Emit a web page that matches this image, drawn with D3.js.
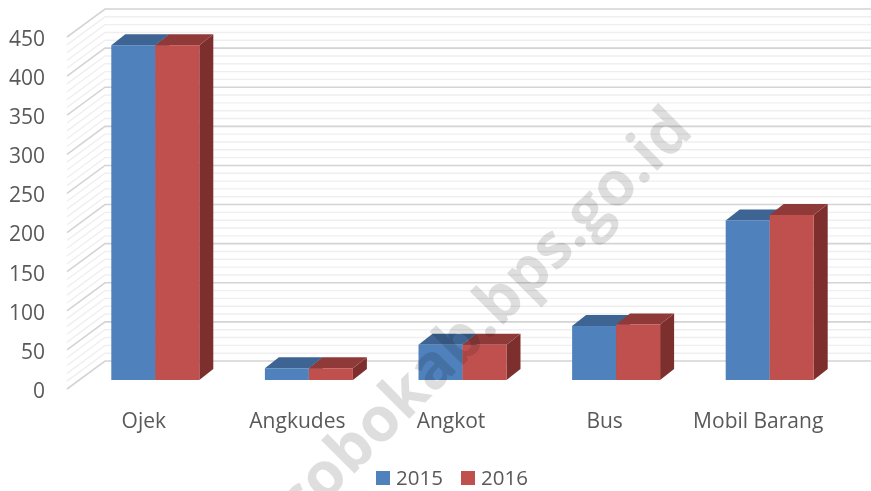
<!DOCTYPE html>
<html><head><meta charset="utf-8">
<script src="https://cdn.jsdelivr.net/npm/d3@7/dist/d3.min.js"></script>
<style>html,body{margin:0;padding:0;background:#fff;overflow:hidden}
svg{display:block;filter:blur(.7px)}
text{font-family:"Open Sans",sans-serif;fill:#595959}</style></head><body>
<script>
const categories=["Ojek","Angkudes","Angkot","Bus","Mobil Barang"];
const series2015=[428,15,45,69,204];
const series2016=[428,15,45,71,211];
const yTicks=[0,50,100,150,200,250,300,350,400,450];
const minorTicks=d3.range(0,451,10);
const seriesNames=["2015","2016"];
const W=871,H=491;
const depth={x:38,y:-28}, barDepth={x:14,y:-11}, barOff=-9;
const y=d3.scaleLinear().domain([0,450]).range([389,37]);
const x=d3.scaleBand().domain(categories).range([78.5,846.5]);
const xLabels=d3.scaleBand().domain(categories).range([67,835]);
const barW=44;
const svg=d3.select("body").append("svg").attr("width",W).attr("height",H);
const grid=svg.append("g").attr("fill","none");
minorTicks.forEach(v=>{
  const major=v%50===0, c=major?"#d4d4d4":"#efefef", w=major?1.6:1.4;
  grid.append("path").attr("stroke",c).attr("stroke-width",w)
   .attr("d",d3.line()([[67,y(v)],[67+depth.x,y(v)+depth.y],[W,y(v)+depth.y]]));
});
const yA=svg.append("g").attr("transform","translate(45,0)").call(d3.axisLeft(y).tickValues(yTicks).tickSize(0).tickPadding(0));
yA.select(".domain").remove();
yA.selectAll("text").style("font-size","21px").attr("dy","0.4em");
const xA=svg.append("g").attr("transform","translate(0,420)").call(d3.axisBottom(xLabels).tickSize(0).tickPadding(0));
xA.select(".domain").remove();
xA.selectAll("text").style("font-size","21px").attr("dy","0.36em").attr("y",0);
const palette=[{f:"#4f81bd",t:"#3d6492",s:"#34557c"},{f:"#c0504d",t:"#8f3a38",s:"#7c2f2d"}];
[series2015,series2016].forEach((vals,si)=>{
  const g=svg.append("g");
  const p=palette[si];
  categories.forEach((c,i)=>{
    const x0=x(c)+x.bandwidth()/2-barW+si*barW, x1=x0+barW;
    const yB=y(0)+barOff, yT=y(vals[i])+barOff;
    const dx=barDepth.x, dy=barDepth.y;
    g.append("polygon").attr("fill",p.s).attr("points",[[x1,yT],[x1+dx,yT+dy],[x1+dx,yB+dy],[x1,yB]].join(" "));
    g.append("polygon").attr("fill",p.t).attr("points",[[x0,yT],[x0+dx,yT+dy],[x1+dx,yT+dy],[x1,yT]].join(" "));
    g.append("rect").attr("fill",p.f).attr("x",x0).attr("y",yT).attr("width",barW).attr("height",yB-yT);
  });
});
const lg=svg.append("g");
seriesNames.forEach((n,i)=>{
  const lx=376+i*85;
  lg.append("rect").attr("x",lx).attr("y",471).attr("width",14).attr("height",14).attr("fill",palette[i].f);
  lg.append("text").attr("x",lx+20).attr("y",478).attr("dy","0.36em").style("font-size","20.5px").text(n);
});
svg.append("text").text("cobokab.bps.go.id")
 .attr("text-anchor","end")
 .attr("transform","translate(695,133) rotate(-45)")
 .style("font-size","62px").style("font-weight","700")
 .style("fill","#000").style("opacity",.13).style("mix-blend-mode","multiply");
</script></body></html>
